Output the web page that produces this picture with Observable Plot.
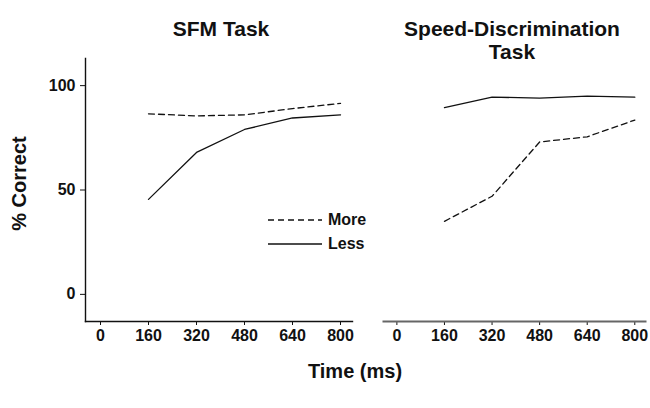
<!DOCTYPE html>
<html>
<head>
<meta charset="utf-8">
<script src="https://cdn.jsdelivr.net/npm/d3@7"></script>
<script src="https://cdn.jsdelivr.net/npm/@observablehq/plot@0.6"></script>
<style>
  html, body { margin: 0; padding: 0; background: #fff; }
  #chart { position: relative; width: 650px; height: 408px; font-family: "Liberation Sans", Arial, sans-serif; color: #111; }
  #chart svg { position: absolute; top: 0; }
  .lbl { position: absolute; font-weight: bold; white-space: nowrap; color: #111; }
</style>
</head>
<body>
<div id="chart"></div>
<script>
// ---- data ----
const times = [160, 320, 480, 640, 800];
const xTicks = [0, 160, 320, 480, 640, 800];
const yTicks = [0, 50, 100];
const sfmMore = [86.5, 85.5, 86, 89, 91.5];
const sfmLess = [45.5, 68, 79, 84.5, 86];
const speedMore = [35, 47, 73, 75.5, 83.5];
const speedLess = [89.5, 94.5, 94, 95, 94.5];
const panelTitles = ["SFM Task", "Speed-Discrimination\nTask"];
const legendLabels = ["More", "Less"];
const yLabel = "% Correct";
const xLabel = "Time (ms)";

const toRows = (vals) => times.map((t, i) => ({t, v: vals[i]}));
const yDomain = [-13, 113];
const font = '"Liberation Sans", Arial, sans-serif';

function panel({more, less, width, marginLeft, marginRight, xDomain, showY, axisColor, axisWidth}) {
  const marks = [
    Plot.axisX(xTicks, {tickSize: 4, tickPadding: 4, fontSize: 16, fontWeight: "bold", stroke: "#111", fill: "#111", label: null}),
    Plot.frame({anchor: "bottom", stroke: axisColor, strokeWidth: axisWidth}),
    Plot.line(toRows(more), {x: "t", y: "v", stroke: "#111", strokeWidth: 1.3, strokeDasharray: "6,4"}),
    Plot.line(toRows(less), {x: "t", y: "v", stroke: "#111", strokeWidth: 1.3})
  ];
  if (showY) {
    marks.push(Plot.axisY(yTicks, {tickSize: 5, tickPadding: 5, fontSize: 16, fontWeight: "bold", stroke: "#111", fill: "#111", label: null}));
    marks.push(Plot.frame({anchor: "left", stroke: "#111", strokeWidth: 1.4}));
  } else {
    marks.push(Plot.axisY({ticks: [], label: null}));
  }
  return Plot.plot({
    width, height: 408,
    marginTop: 58, marginBottom: 87, marginLeft, marginRight,
    style: {fontFamily: font, background: "transparent", color: "#111"},
    x: {domain: xDomain},
    y: {domain: yDomain},
    marks
  });
}

const chart = document.getElementById("chart");
const left = panel({more: sfmMore, less: sfmLess, width: 360, marginLeft: 85, marginRight: 8, xDomain: [-50, 840], showY: true, axisColor: "#111", axisWidth: 1.4});
left.style.left = "0px";
chart.appendChild(left);
const right = panel({more: speedMore, less: speedLess, width: 290, marginLeft: 23, marginRight: 5, xDomain: [-45, 836], showY: false, axisColor: "#666", axisWidth: 2});
right.style.left = "360px";
chart.appendChild(right);

// titles
function label(text, x, y, size, extra = {}) {
  const d = document.createElement("div");
  d.className = "lbl";
  d.textContent = text;
  d.style.fontSize = size + "px";
  d.style.left = x + "px";
  d.style.top = y + "px";
  d.style.transform = "translate(-50%, 0)";
  d.style.textAlign = "center";
  d.style.lineHeight = "23px";
  d.style.whiteSpace = "pre";
  Object.assign(d.style, extra);
  chart.appendChild(d);
  return d;
}
label(panelTitles[0], 221, 17, 21);
label(panelTitles[1], 512, 17, 21);
label(xLabel, 355, 360, 20);
label(yLabel, 19, 172, 20, {transform: "translate(-50%, 0) rotate(-90deg)"});

// legend
const legend = document.createElement("div");
legend.style.position = "absolute";
legend.style.left = "266px";
legend.style.top = "208px";
const styles = ["6,4", null];
legendLabels.forEach((name, i) => {
  const row = document.createElement("div");
  row.style.display = "flex";
  row.style.alignItems = "center";
  row.style.height = "24px";
  const s = d3.create("svg").attr("width", 58).attr("height", 24).style("position", "static");
  s.append("line").attr("x1", 2).attr("x2", 56).attr("y1", 12).attr("y2", 12)
    .attr("stroke", "#111").attr("stroke-width", 1.3)
    .attr("stroke-dasharray", styles[i]);
  row.appendChild(s.node());
  const t = document.createElement("span");
  t.textContent = name;
  t.style.fontWeight = "bold";
  t.style.fontSize = "16px";
  t.style.marginLeft = "4px";
  row.appendChild(t);
  legend.appendChild(row);
});
chart.appendChild(legend);
</script>
</body>
</html>
